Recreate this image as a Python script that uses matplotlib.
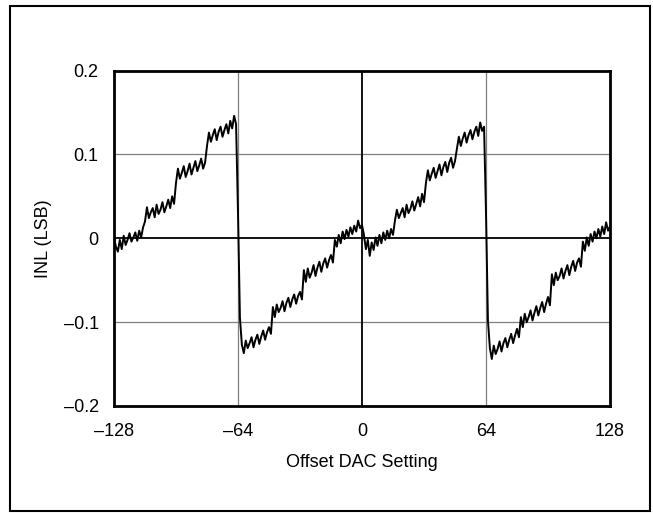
import numpy as np
import matplotlib
matplotlib.use("Agg")
import matplotlib.pyplot as plt
from matplotlib.patches import Rectangle

# offset DAC codes, one reading per code
codes = np.arange(-128, 129)

# INL readings (LSB) in 4 chunks of the sawtooth
inl_seg1 = [  # -128 .. -65
    0.000, -0.010, -0.016, -0.002, -0.013, 0.003, -0.008, -0.002,
    0.006, -0.004, 0.001, 0.007, -0.003, 0.009, 0.001, 0.013,
    0.020, 0.037, 0.024, 0.031, 0.036, 0.025, 0.040, 0.029,
    0.034, 0.043, 0.031, 0.038, 0.046, 0.036, 0.050, 0.041,
    0.066, 0.083, 0.071, 0.078, 0.086, 0.073, 0.080, 0.089,
    0.076, 0.084, 0.092, 0.080, 0.087, 0.095, 0.083, 0.090,
    0.110, 0.126, 0.115, 0.123, 0.130, 0.117, 0.127, 0.133,
    0.121, 0.129, 0.136, 0.125, 0.140, 0.131, 0.146, 0.136,
]
inl_seg2 = [  # -64 .. -1
    0.030, -0.095,
    -0.127, -0.137, -0.122, -0.131, -0.125, -0.118, -0.130, -0.121,
    -0.115, -0.126, -0.117, -0.110, -0.121, -0.112, -0.106, -0.114,
    -0.082, -0.094, -0.079, -0.088, -0.083, -0.075, -0.087, -0.077,
    -0.071, -0.082, -0.073, -0.067, -0.078, -0.069, -0.064, -0.073,
    -0.038, -0.052, -0.036, -0.047, -0.041, -0.032, -0.045, -0.035,
    -0.028, -0.040, -0.030, -0.024, -0.035, -0.026, -0.020, -0.029,
    -0.002, -0.010, 0.004, -0.006, 0.008, -0.001, 0.010, 0.002,
    0.013, 0.005, 0.015, 0.008, 0.021, 0.012,
]
inl_seg3 = [  # 0 .. 63
    0.016, 0.004, -0.013, -0.002, -0.021, -0.005, -0.014, 0.001,
    -0.009, 0.004, -0.006, 0.007, -0.002, 0.009, 0.000, 0.011, 0.004,
    0.021, 0.034, 0.024, 0.030, 0.036, 0.025, 0.040, 0.030,
    0.035, 0.044, 0.033, 0.041, 0.049, 0.038, 0.053, 0.043,
    0.066, 0.081, 0.069, 0.077, 0.084, 0.072, 0.080, 0.088,
    0.075, 0.085, 0.091, 0.079, 0.090, 0.096, 0.084, 0.092,
    0.107, 0.121, 0.110, 0.119, 0.126, 0.114, 0.123, 0.129,
    0.118, 0.127, 0.133, 0.122, 0.138, 0.128, 0.133,
]
inl_seg4 = [  # 64 .. 128
    0.030, -0.098,
    -0.131, -0.144, -0.128, -0.138, -0.132, -0.123, -0.135, -0.125,
    -0.119, -0.130, -0.121, -0.114, -0.125, -0.116, -0.108, -0.118,
    -0.094, -0.106, -0.090, -0.100, -0.094, -0.086, -0.098, -0.089,
    -0.081, -0.092, -0.083, -0.076, -0.088, -0.078, -0.070, -0.080,
    -0.043, -0.056, -0.041, -0.050, -0.045, -0.036, -0.048, -0.039,
    -0.032, -0.044, -0.034, -0.027, -0.039, -0.029, -0.024, -0.034,
    -0.004, -0.015, 0.001, -0.009, 0.005, -0.004, 0.008, 0.000,
    0.011, 0.002, 0.014, 0.005, 0.019, 0.009, 0.014,
]

x_ticks = [-128, -64, 0, 64, 128]
x_ticklabels = ["\u2013128", "\u201364", "0", "64", "128"]
y_ticks = [-0.2, -0.1, 0, 0.1, 0.2]
y_ticklabels = ["\u20130.2", "\u20130.1", "0", "0.1", "0.2"]

inl = np.concatenate([inl_seg1, inl_seg2, inl_seg3, inl_seg4])

plt.rcParams["font.family"] = ["Liberation Sans", "DejaVu Sans"]
plt.rcParams["font.size"] = 13

fig = plt.figure(figsize=(6.53, 5.13), dpi=100)
ax = fig.add_axes([114 / 653, 1 - 406 / 513, 496 / 653, 335.5 / 513])

# outer frame round the whole figure
fig.patches.append(Rectangle((10 / 653, 2 / 513), 640 / 653, 505 / 513,
                             transform=fig.transFigure, fill=False,
                             edgecolor="black", linewidth=1.5))

# grid: light lines at +-64 / +-0.1, dark ones through zero
for xv in [-64, 64]:
    ax.axvline(xv, color="#7f7f7f", linewidth=0.9, zorder=1)
for yv in [-0.1, 0.1]:
    ax.axhline(yv, color="#7f7f7f", linewidth=0.9, zorder=1)
ax.axvline(0, color="black", linewidth=1.3, zorder=1)
ax.axhline(0, color="black", linewidth=1.3, zorder=1)

ax.plot(codes, inl, color="black", linewidth=1.4, zorder=3)

ax.set_xlim(-128, 128)
ax.set_ylim(-0.2, 0.2)
ax.set_xticks(x_ticks)
ax.set_xticklabels(x_ticklabels)
ax.set_yticks(y_ticks)
ax.set_yticklabels(y_ticklabels)
ax.tick_params(axis="both", length=0)
ax.tick_params(axis="x", pad=12)
ax.tick_params(axis="y", pad=11)

for sp in ax.spines.values():
    sp.set_linewidth(2.0)

ax.set_xlabel("Offset DAC Setting", labelpad=10)
ax.set_ylabel("INL (LSB)", labelpad=8)

fig.savefig("out.png", dpi=100)
